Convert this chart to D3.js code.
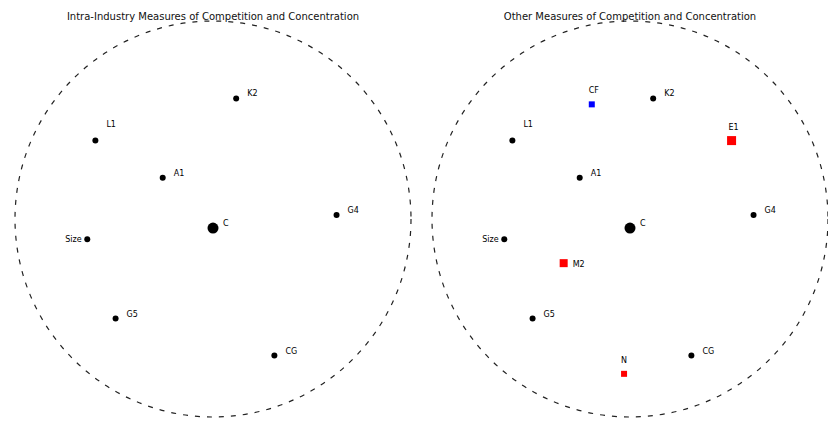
<!DOCTYPE html>
<html>
<head>
<meta charset="utf-8">
<script src="https://cdn.jsdelivr.net/npm/d3@7"></script>
<style>
  body { margin: 0; background: #fff; }
  text { font-family: "DejaVu Sans", sans-serif; }
</style>
</head>
<body>
<div id="chart"></div>
<script>
// map coordinates, unit circle
const titles = ["Intra-Industry Measures of Competition and Concentration",
                "Other Measures of Competition and Concentration"];
const labels = ["K2", "L1", "A1", "C", "G4", "Size", "G5", "CG"];
const xs = [0.117, -0.594, -0.254, 0.0, 0.624, -0.635, -0.492, 0.310];
const ys = [0.609, 0.396, 0.208, -0.046, 0.020, -0.102, -0.503, -0.690];
const big = [false, false, false, true, false, false, false, false];

const extraLabels = ["CF", "E1", "M2", "N"];
const extraX = [-0.193, 0.513, -0.335, -0.030];
const extraY = [0.579, 0.396, -0.223, -0.782];
const extraColor = ["blue", "red", "red", "red"];
const extraSize = [6, 9, 8, 6];

const width = 828, height = 423;
const r = 198;
const centers = [213, 630];
const cy = 219;

const svg = d3.select("#chart").append("svg")
    .attr("width", width)
    .attr("height", height);

const pts = labels.map((l, i) => ({ label: l, x: xs[i], y: ys[i], big: big[i] }));
const extra = extraLabels.map((l, i) => ({ label: l, x: extraX[i], y: extraY[i], color: extraColor[i], size: extraSize[i] }));

centers.forEach((cx, k) => {
  const x = d3.scaleLinear().domain([-1, 1]).range([cx - r, cx + r]);
  const y = d3.scaleLinear().domain([-1, 1]).range([cy + r, cy - r]);
  const g = svg.append("g");

  g.append("circle")
      .attr("cx", x(0)).attr("cy", y(0)).attr("r", r)
      .attr("fill", "none").attr("stroke", "#222")
      .attr("stroke-width", 1.2)
      .attr("stroke-dasharray", "5,7");

  g.append("text")
      .attr("x", cx).attr("y", 20)
      .attr("text-anchor", "middle")
      .attr("font-size", 10)
      .attr("fill", "#111")
      .text(titles[k]);

  g.selectAll(".pt").data(pts).enter().append("circle")
      .attr("cx", d => x(d.x)).attr("cy", d => y(d.y))
      .attr("r", d => d.big ? 5.5 : 3)
      .attr("fill", "#000");

  g.selectAll(".lb").data(pts).enter().append("text")
      .attr("x", d => x(d.x) + (d.label === "Size" ? -22 : (d.big ? 10 : 11)))
      .attr("y", d => y(d.y) - (d.label === "Size" ? -3 : (d.label === "L1" ? 14 : 2)))
      .attr("font-size", 8)
      .attr("fill", "#000")
      .text(d => d.label);

  if (k === 1) {
    g.selectAll(".ex").data(extra).enter().append("rect")
        .attr("x", d => x(d.x) - d.size / 2)
        .attr("y", d => y(d.y) - d.size / 2)
        .attr("width", d => d.size).attr("height", d => d.size)
        .attr("fill", d => d.color);

    g.selectAll(".exl").data(extra).enter().append("text")
        .attr("x", d => x(d.x) + (d.label === "M2" ? 9 : -3))
        .attr("y", d => y(d.y) + (d.label === "M2" ? 4 : -11))
        .attr("font-size", 8)
        .attr("fill", "#000")
        .text(d => d.label);
  }
});
</script>
</body>
</html>
